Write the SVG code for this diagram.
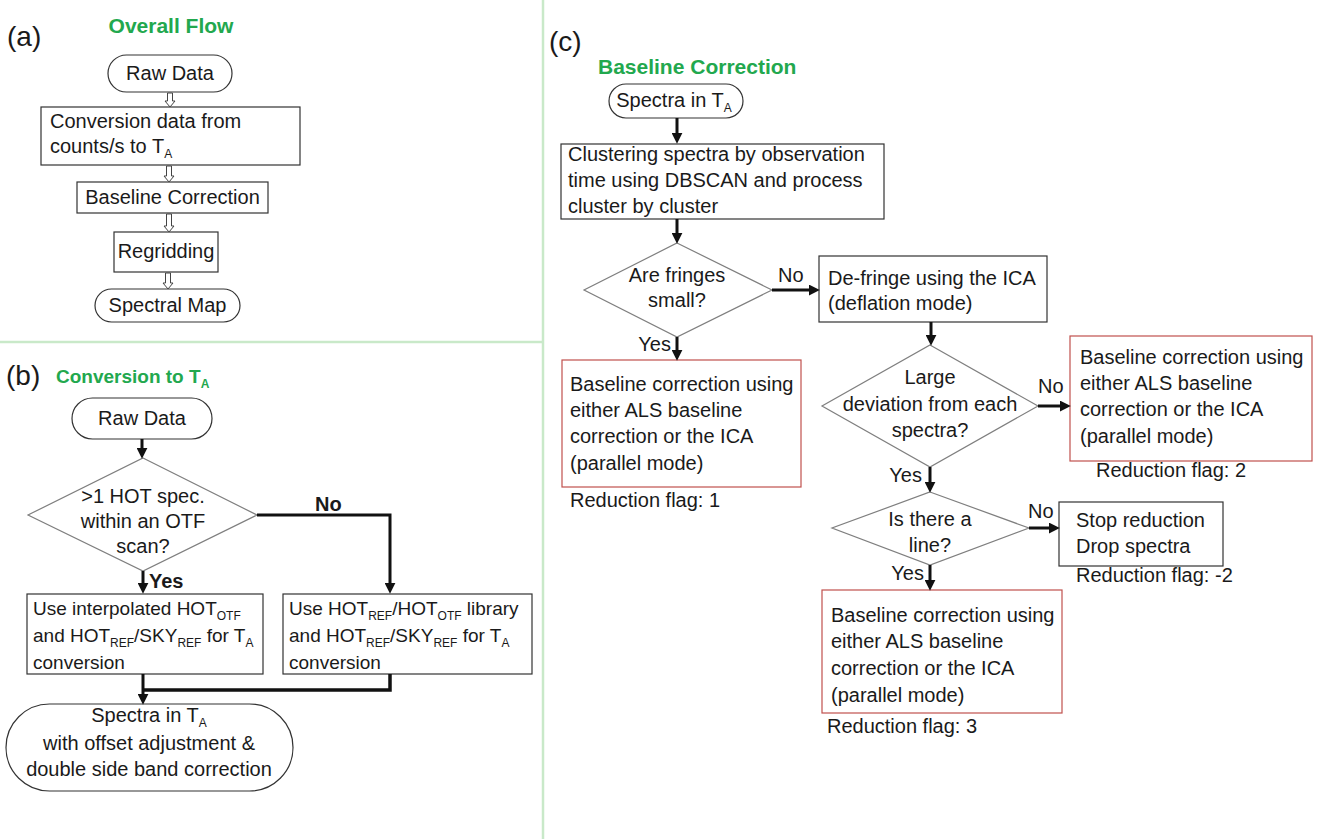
<svg xmlns="http://www.w3.org/2000/svg" width="1317" height="839" viewBox="0 0 1317 839">
<style>
.t{font-family:"Liberation Sans",Arial,sans-serif;font-size:20px;fill:#1a1a1a}
.c{text-anchor:middle}
.e{text-anchor:end}
.bd{font-weight:bold}
.sm{font-size:19px}
.g{font-family:"Liberation Sans",Arial,sans-serif;font-weight:bold;font-size:21px;fill:#22a84e}
.lbl{font-family:"Liberation Sans",Arial,sans-serif;font-size:28px;fill:#1a1a1a}
.s{font-size:12px}
.box{fill:#fff;stroke:#333;stroke-width:1.2}
.rbox{fill:#fff;stroke:#c0504d;stroke-width:1.2}
.dia{fill:#fff;stroke:#7f7f7f;stroke-width:1.2}
.div{stroke:#c9e9c9;stroke-width:2.5;fill:none}
.ar{stroke:#111;stroke-width:3;fill:none;marker-end:url(#ah)}
.ln{stroke:#111;stroke-width:3.5;fill:none}
.ho{fill:#fff;stroke:#444;stroke-width:1}
</style>
<defs>
<marker id="ah" viewBox="0 0 10 10" markerWidth="11" markerHeight="11" refX="2" refY="5" orient="auto" markerUnits="userSpaceOnUse">
<path d="M0,0 L10,5 L0,10 z" fill="#111"/>
</marker>
</defs>
<rect x="0" y="0" width="1317" height="839" fill="#fff"/>
<g id="dividers">
<line class="div" x1="543" y1="0" x2="543" y2="839"/>
<line class="div" x1="0" y1="342" x2="543" y2="342"/>
</g>
<g id="labels">
<text class="lbl" x="7" y="46">(a)</text>
<text class="g" x="171" y="33" text-anchor="middle">Overall Flow</text>
<text class="lbl" x="6" y="385">(b)</text>
<text class="g" x="56" y="383" style="font-size:19px">Conversion to T<tspan class="s" dy="5">A</tspan></text>
<text class="lbl" x="549" y="51">(c)</text>
<text class="g" x="598" y="74">Baseline Correction</text>
</g>
<!-- Panel (a) -->
<g id="a-raw"><rect class="box" x="108" y="55" width="124" height="37" rx="18.5"/><text class="t c" x="170" y="80">Raw Data</text></g>
<g id="a-conv"><rect class="box" x="41" y="107" width="259" height="58"/><text class="t" x="50" y="128">Conversion data from</text><text class="t" x="50" y="153">counts/s to T<tspan class="s" dy="5">A</tspan></text></g>
<g id="a-base"><rect class="box" x="77" y="182" width="191" height="31"/><text class="t c" x="172.5" y="204">Baseline Correction</text></g>
<g id="a-regrid"><rect class="box" x="114" y="232" width="104" height="40"/><text class="t c" x="166" y="258">Regridding</text></g>
<g id="a-map"><rect class="box" x="95" y="289" width="145" height="33" rx="16.5"/><text class="t c" x="167.5" y="312">Spectral Map</text></g>
<g id="a-connectors">
<path class="ho" d="M167.5,93 H172.5 V101 H175 L170,107 L165,101 H167.5 Z"/>
<path class="ho" d="M166.5,166 H171.5 V176 H174 L169,182 L164,176 H166.5 Z"/>
<path class="ho" d="M166.5,214 H171.5 V226 H174 L169,232 L164,226 H166.5 Z"/>
<path class="ho" d="M165.5,273 H170.5 V283 H173 L168,289 L163,283 H165.5 Z"/>
</g>
<!-- Panel (b) -->
<g id="b-raw"><rect class="box" x="72" y="398" width="140" height="41" rx="20.5"/><text class="t c" x="142" y="425">Raw Data</text></g>
<g id="b-dec"><polygon class="dia" points="143,458 257,515 143,571 28,515"/><text class="t c" x="143" y="503">&gt;1 HOT spec.</text><text class="t c" x="143" y="528">within an OTF</text><text class="t c" x="143" y="553">scan?</text></g>
<g id="b-left"><rect class="box" x="27" y="594" width="236" height="80"/>
<text class="t sm" x="33" y="615">Use interpolated HOT<tspan class="s" dy="5">OTF</tspan></text>
<text class="t sm" x="33" y="642">and HOT<tspan class="s" dy="5">REF</tspan><tspan dy="-5">/SKY</tspan><tspan class="s" dy="5">REF</tspan><tspan dy="-5"> for T</tspan><tspan class="s" dy="5">A</tspan></text>
<text class="t sm" x="33" y="669">conversion</text></g>
<g id="b-right"><rect class="box" x="283" y="594" width="249" height="80"/>
<text class="t sm" x="289" y="615">Use HOT<tspan class="s" dy="5">REF</tspan><tspan dy="-5">/HOT</tspan><tspan class="s" dy="5">OTF</tspan><tspan dy="-5"> library</tspan></text>
<text class="t sm" x="289" y="642">and HOT<tspan class="s" dy="5">REF</tspan><tspan dy="-5">/SKY</tspan><tspan class="s" dy="5">REF</tspan><tspan dy="-5"> for T</tspan><tspan class="s" dy="5">A</tspan></text>
<text class="t sm" x="289" y="669">conversion</text></g>
<g id="b-out"><rect class="box" x="6" y="704" width="287" height="87" rx="43.5"/>
<text class="t c" x="149" y="722">Spectra in T<tspan class="s" dy="5">A</tspan></text>
<text class="t c" x="149" y="750">with offset adjustment &amp;</text>
<text class="t c" x="149" y="776">double side band correction</text></g>
<g id="b-connectors">
<path class="ar" d="M142,439 V450"/>
<path class="ar" d="M257,515 H390 V585"/>
<path class="ar" d="M143,571 V585"/>
<path class="ar" d="M143,674 V696"/>
<path class="ln" d="M390,674 V690 H143"/>
<text class="t bd" x="315" y="511">No</text>
<text class="t bd" x="149" y="588">Yes</text>
</g>
<!-- Panel (c) -->
<g id="c-start"><rect class="box" x="609" y="84" width="134" height="34" rx="17"/><text class="t c" x="674" y="107">Spectra in T<tspan class="s" dy="5">A</tspan></text></g>
<g id="c-cluster"><rect class="box" x="561" y="144" width="323" height="75"/>
<text class="t" x="568" y="161">Clustering spectra by observation</text>
<text class="t" x="568" y="187">time using DBSCAN and process</text>
<text class="t" x="568" y="213">cluster by cluster</text></g>
<g id="c-dec1"><polygon class="dia" points="677,243 772,290 677,337 584,290"/><text class="t c" x="677" y="282">Are fringes</text><text class="t c" x="677" y="307">small?</text></g>
<g id="c-red1"><rect class="rbox" x="562" y="360" width="239" height="127"/>
<text class="t" x="570" y="391">Baseline correction using</text>
<text class="t" x="570" y="417">either ALS baseline</text>
<text class="t" x="570" y="443">correction or the ICA</text>
<text class="t" x="570" y="470">(parallel mode)</text>
<text class="t" x="570" y="507">Reduction flag: 1</text></g>
<g id="c-defringe"><rect class="box" x="819" y="256" width="228" height="66"/>
<text class="t" x="828" y="285">De-fringe using the ICA</text>
<text class="t" x="828" y="310">(deflation mode)</text></g>
<g id="c-dec2"><polygon class="dia" points="930,345 1038,406 930,467 822,406"/>
<text class="t c" x="930" y="384">Large</text>
<text class="t c" x="930" y="411">deviation from each</text>
<text class="t c" x="930" y="437">spectra?</text></g>
<g id="c-red2"><rect class="rbox" x="1070" y="336" width="242" height="125"/>
<text class="t" x="1080" y="364">Baseline correction using</text>
<text class="t" x="1080" y="390">either ALS baseline</text>
<text class="t" x="1080" y="416">correction or the ICA</text>
<text class="t" x="1080" y="443">(parallel mode)</text>
<text class="t" x="1096" y="477">Reduction flag: 2</text></g>
<g id="c-dec3"><polygon class="dia" points="930,492 1029,528 930,565 832,528"/>
<text class="t c" x="930" y="526">Is there a</text>
<text class="t c" x="930" y="552">line?</text></g>
<g id="c-stop"><rect class="box" x="1059" y="502" width="164" height="64"/>
<text class="t" x="1076" y="527">Stop reduction</text>
<text class="t" x="1076" y="553">Drop spectra</text>
<text class="t" x="1076" y="582">Reduction flag: -2</text></g>
<g id="c-red3"><rect class="rbox" x="822" y="590" width="240" height="123"/>
<text class="t" x="831" y="622">Baseline correction using</text>
<text class="t" x="831" y="648">either ALS baseline</text>
<text class="t" x="831" y="675">correction or the ICA</text>
<text class="t" x="831" y="702">(parallel mode)</text>
<text class="t" x="827" y="733">Reduction flag: 3</text></g>
<g id="c-connectors">
<path class="ar" d="M677,118 V135"/>
<path class="ar" d="M677,219 V235"/>
<path class="ar" d="M772,290 H811"/>
<path class="ar" d="M677,337 V352"/>
<path class="ar" d="M931,322 V337"/>
<path class="ar" d="M1038,406 H1062"/>
<path class="ar" d="M930,467 V484"/>
<path class="ar" d="M1029,528 H1051"/>
<path class="ar" d="M930,565 V582"/>
<text class="t" x="778" y="282">No</text>
<text class="t e" x="671" y="351">Yes</text>
<text class="t" x="1038" y="393">No</text>
<text class="t e" x="922" y="482">Yes</text>
<text class="t" x="1028" y="518">No</text>
<text class="t e" x="924" y="580">Yes</text>
</g>
</svg>
